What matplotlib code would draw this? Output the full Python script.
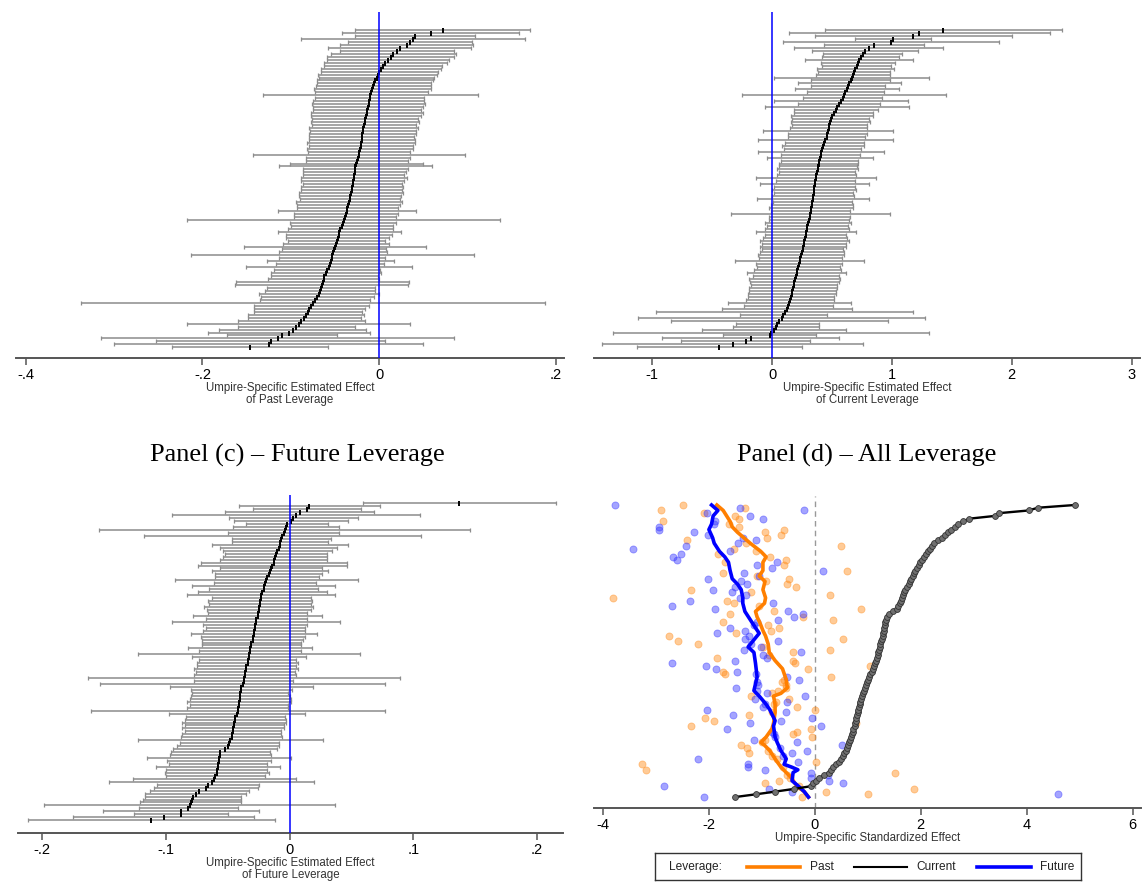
# Umpire-specific leverage effects: four panels (past, current, future, standardized)

import numpy as np
import matplotlib.pyplot as plt

plt.rcParams['font.family'] = ['Liberation Sans', 'DejaVu Sans']
plt.rcParams['axes.unicode_minus'] = False

# Panel (a): past leverage, point estimates and CI half-widths (rank 0 = bottom)
past_est = [
    -0.146, -0.125, -0.123, -0.115, -0.110, -0.102, -0.098, -0.094, -0.091, -0.088,
    -0.085, -0.083, -0.081, -0.079, -0.077, -0.075, -0.073, -0.070, -0.068, -0.067,
    -0.066, -0.065, -0.064, -0.063, -0.062, -0.060, -0.059, -0.057, -0.056, -0.055,
    -0.054, -0.053, -0.052, -0.051, -0.050, -0.049, -0.048, -0.047, -0.046, -0.045,
    -0.044, -0.042, -0.041, -0.040, -0.039, -0.038, -0.037, -0.036, -0.035, -0.034,
    -0.033, -0.033, -0.032, -0.031, -0.031, -0.030, -0.030, -0.029, -0.029, -0.028,
    -0.027, -0.027, -0.026, -0.025, -0.024, -0.023, -0.023, -0.022, -0.021, -0.021,
    -0.020, -0.020, -0.019, -0.018, -0.018, -0.017, -0.016, -0.016, -0.015, -0.014,
    -0.014, -0.013, -0.012, -0.012, -0.011, -0.010, -0.009, -0.008, -0.007, -0.006,
    -0.005, -0.003, -0.002, 0.000, 0.002, 0.004, 0.007, 0.010, 0.013, 0.016,
    0.020, 0.023, 0.031, 0.035, 0.038, 0.040, 0.058, 0.072]
past_hw = [
    0.088, 0.175, 0.130, 0.200, 0.062, 0.092, 0.083, 0.066, 0.126, 0.072,
    0.064, 0.066, 0.061, 0.063, 0.065, 0.262, 0.062, 0.064, 0.068, 0.062,
    0.061, 0.098, 0.098, 0.063, 0.061, 0.062, 0.060, 0.094, 0.061, 0.072,
    0.060, 0.160, 0.061, 0.059, 0.103, 0.060, 0.055, 0.058, 0.060, 0.070,
    0.059, 0.058, 0.060, 0.177, 0.058, 0.059, 0.078, 0.057, 0.058, 0.060,
    0.057, 0.058, 0.059, 0.057, 0.058, 0.056, 0.058, 0.060, 0.057, 0.058,
    0.059, 0.087, 0.075, 0.058, 0.059, 0.120, 0.058, 0.060, 0.059, 0.061,
    0.060, 0.059, 0.061, 0.060, 0.062, 0.059, 0.061, 0.060, 0.062, 0.063,
    0.061, 0.062, 0.064, 0.063, 0.062, 0.122, 0.064, 0.066, 0.065, 0.064,
    0.066, 0.065, 0.067, 0.066, 0.068, 0.067, 0.070, 0.069, 0.072, 0.071,
    0.064, 0.081, 0.075, 0.070, 0.127, 0.068, 0.100, 0.099]

# Panel (b): current leverage
curr_est = [
    -0.44, -0.33, -0.22, -0.18, -0.02, -0.01, 0.015, 0.030, 0.045, 0.060,
    0.080, 0.095, 0.105, 0.125, 0.135, 0.145, 0.150, 0.160, 0.165, 0.170,
    0.175, 0.180, 0.185, 0.190, 0.197, 0.205, 0.212, 0.220, 0.225, 0.230,
    0.237, 0.243, 0.250, 0.255, 0.260, 0.265, 0.270, 0.275, 0.280, 0.283,
    0.290, 0.295, 0.300, 0.308, 0.313, 0.318, 0.323, 0.328, 0.333, 0.336,
    0.340, 0.343, 0.346, 0.350, 0.353, 0.357, 0.361, 0.365, 0.370, 0.375,
    0.380, 0.385, 0.390, 0.395, 0.400, 0.405, 0.410, 0.418, 0.425, 0.435,
    0.445, 0.455, 0.462, 0.468, 0.473, 0.478, 0.484, 0.490, 0.500, 0.515,
    0.530, 0.545, 0.560, 0.575, 0.588, 0.600, 0.612, 0.625, 0.635, 0.645,
    0.655, 0.665, 0.675, 0.685, 0.695, 0.705, 0.715, 0.725, 0.740, 0.755,
    0.775, 0.805, 0.850, 0.990, 1.010, 1.180, 1.230, 1.430]
curr_hw = [
    0.69, 1.09, 0.54, 0.74, 0.39, 1.32, 0.60, 0.36, 0.35, 0.905,
    1.20, 0.36, 1.07, 0.54, 0.37, 0.514, 0.37, 0.36, 0.37, 0.36,
    0.37, 0.36, 0.37, 0.38, 0.36, 0.415, 0.36, 0.35, 0.36, 0.54,
    0.35, 0.36, 0.35, 0.34, 0.36, 0.35, 0.37, 0.35, 0.34, 0.415,
    0.35, 0.34, 0.36, 0.33, 0.34, 0.665, 0.33, 0.35, 0.34, 0.33,
    0.465, 0.34, 0.33, 0.35, 0.34, 0.455, 0.33, 0.50, 0.33, 0.32,
    0.34, 0.325, 0.33, 0.32, 0.445, 0.33, 0.525, 0.32, 0.34, 0.33,
    0.56, 0.32, 0.33, 0.545, 0.32, 0.31, 0.33, 0.32, 0.34, 0.33,
    0.35, 0.60, 0.34, 0.56, 0.33, 0.85, 0.32, 0.43, 0.31, 0.43,
    0.33, 0.645, 0.31, 0.30, 0.32, 0.29, 0.31, 0.45, 0.32, 0.33,
    0.44, 0.62, 0.42, 0.90, 0.32, 0.82, 1.09, 0.99]

# Panel (c): future leverage
fut_est = [
    -0.112, -0.102, -0.088, -0.088, -0.082, -0.081, -0.080, -0.079, -0.078, -0.076,
    -0.073, -0.068, -0.066, -0.063, -0.061, -0.060, -0.059, -0.059, -0.058, -0.058,
    -0.057, -0.057, -0.056, -0.056, -0.052, -0.050, -0.049, -0.048, -0.047, -0.047,
    -0.046, -0.046, -0.045, -0.045, -0.044, -0.044, -0.043, -0.042, -0.042, -0.041,
    -0.041, -0.040, -0.040, -0.040, -0.039, -0.039, -0.038, -0.037, -0.037, -0.036,
    -0.036, -0.035, -0.035, -0.034, -0.034, -0.033, -0.033, -0.032, -0.032, -0.031,
    -0.031, -0.030, -0.030, -0.029, -0.029, -0.028, -0.028, -0.027, -0.027, -0.026,
    -0.026, -0.025, -0.025, -0.024, -0.024, -0.023, -0.023, -0.022, -0.021, -0.021,
    -0.020, -0.019, -0.018, -0.017, -0.016, -0.015, -0.014, -0.013, -0.013, -0.012,
    -0.011, -0.010, -0.009, -0.008, -0.008, -0.007, -0.006, -0.005, -0.004, -0.003,
    -0.002, 0.001, 0.003, 0.005, 0.008, 0.014, 0.016, 0.137]
fut_hw = [
    0.100, 0.073, 0.038, 0.063, 0.040, 0.118, 0.041, 0.040, 0.039, 0.041,
    0.040, 0.042, 0.041, 0.083, 0.066, 0.040, 0.042, 0.041, 0.050, 0.040,
    0.042, 0.058, 0.041, 0.040, 0.042, 0.041, 0.040, 0.075, 0.041, 0.040,
    0.039, 0.041, 0.040, 0.042, 0.041, 0.040, 0.055, 0.119, 0.041, 0.040,
    0.042, 0.041, 0.040, 0.039, 0.041, 0.058, 0.115, 0.040, 0.126, 0.041,
    0.040, 0.042, 0.040, 0.041, 0.039, 0.046, 0.090, 0.041, 0.050, 0.040,
    0.040, 0.041, 0.042, 0.051, 0.041, 0.040, 0.042, 0.068, 0.041, 0.052,
    0.040, 0.042, 0.044, 0.041, 0.042, 0.040, 0.060, 0.052, 0.044, 0.058,
    0.041, 0.074, 0.042, 0.043, 0.047, 0.041, 0.060, 0.059, 0.043, 0.042,
    0.041, 0.044, 0.047, 0.055, 0.039, 0.040, 0.112, 0.045, 0.150, 0.043,
    0.033, 0.046, 0.052, 0.100, 0.060, 0.044, 0.057, 0.078]

# Panel (d): standardized effects
curr_std = [
    -1.51, -1.12, -0.75, -0.39, -0.07, -0.03, 0.02, 0.07, 0.18, 0.26,
    0.31, 0.35, 0.40, 0.46, 0.50, 0.53, 0.56, 0.58, 0.60, 0.63,
    0.65, 0.67, 0.69, 0.70, 0.72, 0.73, 0.75, 0.76, 0.77, 0.78,
    0.79, 0.81, 0.82, 0.83, 0.85, 0.86, 0.87, 0.89, 0.91, 0.93,
    0.95, 0.97, 0.99, 1.01, 1.03, 1.05, 1.08, 1.10, 1.12, 1.14,
    1.15, 1.17, 1.19, 1.20, 1.21, 1.23, 1.24, 1.25, 1.27, 1.28,
    1.29, 1.30, 1.31, 1.32, 1.33, 1.35, 1.36, 1.40, 1.48, 1.55,
    1.58, 1.60, 1.62, 1.64, 1.66, 1.69, 1.71, 1.74, 1.77, 1.80,
    1.82, 1.85, 1.87, 1.90, 1.93, 1.96, 1.99, 2.03, 2.06, 2.10,
    2.14, 2.17, 2.21, 2.25, 2.33, 2.40, 2.45, 2.51, 2.58, 2.65,
    2.71, 2.80, 2.92, 3.40, 3.47, 4.04, 4.21, 4.91]

past_std_rank = [
    107, 105, 106, 104, 101, 102, 99, 98, 96, 94, 95, 93, 91, 92, 90, 89, 88, 87,
    86, 85, 83, 82, 81, 80, 78, 77, 76, 75, 73, 74, 72, 71, 68, 69, 67, 66, 64, 65,
    62, 61, 60, 59, 58, 57, 56, 55, 53, 54, 51, 50, 49, 48, 47, 46, 45, 44, 43, 40,
    37, 36, 33, 32, 30, 29, 28, 27, 26, 25, 23, 24, 22, 19, 18, 16, 13, 12, 10, 9,
    5, 6, 3, 2, 1, 0,
    100, 103, 97, 79, 70, 63, 52, 42, 41, 39, 38, 35, 34, 31, 21, 20, 17, 15, 14,
    11, 8, 7, 4]
past_std = [
    -2.49, -2.90, -1.32, -2.10, -2.87, -1.43, -1.43, -0.59, -0.63, -2.41, -0.90,
    -1.30, -1.53, 0.50, -1.12, -1.83, -0.85, -0.54, -1.70, -0.58, 0.61, -1.74,
    -1.09, -0.48, -0.52, -0.35, -2.33, -1.20, -3.82, 0.29, -1.65, -1.53, -0.78,
    0.88, -1.60, -0.22, -1.74, 0.34, -0.68, -0.83, -1.49, -2.75, 0.54, -2.59,
    -2.21, -0.98, -0.42, 0.29, -1.85, -0.42, -0.37, 1.05, -0.12, -1.73, -1.70,
    0.31, -0.58, -0.54, -1.20, -0.48, -0.34, 0.01, -1.24, -2.07, -1.91, 0.77,
    -2.34, -0.07, -0.42, -0.34, -0.05, -1.39, -1.29, -1.24, 0.02, -3.26, -3.19,
    1.51, -0.95, -0.68, 1.88, 0.22, 1.00, -0.24,
    -1.62, -1.50, -0.95, -0.92, -1.05, -0.88, -0.86, -0.62, -0.55, -0.70, -0.80,
    -0.73, -0.77, -0.80, -0.95, -1.00, -0.88, -0.80, -0.72, -0.60, -0.52, -0.47,
    -0.30]

fut_std_rank = [
    107, 104, 106, 103, 102, 105, 99, 98, 97, 96, 92, 91, 89, 88, 87, 90, 95, 94,
    86, 85, 84, 83, 80, 82, 81, 78, 76, 77, 75, 73, 72, 70, 69, 71, 68, 66, 67, 65,
    62, 60, 61, 58, 59, 57, 55, 54, 53, 52, 51, 49, 50, 48, 47, 46, 44, 43, 40, 39,
    38, 37, 36, 35, 32, 31, 30, 29, 27, 26, 25, 28, 21, 20, 19, 16, 17, 14, 12, 11,
    13, 10, 9, 8, 7, 6, 5, 4, 3, 2, 0, 1,
    100, 101, 93, 79, 74, 64, 63, 56, 45, 42, 41, 34, 33, 24, 23, 22, 18, 15]
fut_std = [
    -3.77, -2.04, -1.41, -1.22, -0.97, -0.20, -2.95, -2.94, -2.29, -2.02, -2.44,
    -3.43, -2.53, -2.68, -2.60, -1.60, -1.36, -1.12, -0.71, -1.09, -0.81, 0.15,
    -2.02, -1.34, -1.05, -1.29, -1.92, -1.51, -1.56, -1.41, -2.36, -2.70, -1.88,
    -0.79, -0.50, -0.39, -0.22, -0.69, -1.60, -1.85, -1.31, -1.32, -1.24, -0.69,
    -1.02, -1.34, -0.27, -0.98, -0.90, -2.70, -1.51, -2.05, -1.87, -1.47, -0.52,
    -0.29, -1.49, -1.10, -0.90, -0.18, -1.13, -0.52, -2.04, -0.54, -1.55, -0.05,
    -1.22, 0.12, -1.66, -0.63, -1.15, -0.34, 0.51, -0.44, -0.15, -2.21, -1.27,
    -1.26, -0.31, -0.94, -0.07, 0.25, -0.07, 0.27, 0.53, -2.85, -0.86, -0.44,
    -2.10, 4.60,
    -1.90, -1.88, -1.45, -1.40, -1.30, -1.10, -1.15, -1.20, -1.12, -1.10, -1.08,
    -0.95, -0.98, -0.80, -0.78, -0.76, -0.66, -0.60]

# running-average lines in panel (d)
past_line_rank = [107, 105, 101, 99, 97, 93, 90, 88, 86, 83, 81, 79, 76, 73, 71,
                  68, 66, 64, 61, 59, 56, 53, 50, 47, 43, 40, 38, 37, 34, 31, 27,
                  25, 22, 20, 19, 17, 14, 11, 9, 7, 4, 2, 0]
past_line = [-1.85, -1.73, -1.60, -1.56, -1.46, -1.22, -1.02, -0.92, -0.98, -0.98,
             -1.05, -0.94, -0.98, -0.93, -0.95, -1.12, -1.09, -1.04, -0.98, -0.93,
             -0.88, -0.86, -0.75, -0.61, -0.54, -0.52, -0.64, -0.78, -0.75, -0.75,
             -0.78, -0.81, -0.92, -1.02, -0.95, -0.85, -0.75, -0.64, -0.54, -0.44,
             -0.34, -0.20, -0.12]
fut_line_rank = [107, 105, 103, 100, 98, 95, 93, 90, 88, 86, 83, 80, 78, 76, 73,
                 71, 68, 65, 62, 60, 55, 53, 49, 44, 39, 37, 34, 32, 28, 26, 22,
                 20, 17, 14, 12, 11, 10, 9, 6, 4, 2, 0]
fut_line = [-1.95, -1.83, -1.92, -1.95, -2.00, -1.93, -1.90, -1.80, -1.70, -1.63,
            -1.60, -1.56, -1.46, -1.39, -1.36, -1.36, -1.32, -1.22, -1.12, -1.05,
            -1.26, -1.15, -1.12, -1.09, -1.15, -1.05, -0.92, -0.85, -0.75, -0.78,
            -0.75, -0.71, -0.64, -0.54, -0.58, -0.44, -0.32, -0.41, -0.43, -0.31,
            -0.20, -0.12]

W, H = 1143, 882
fig = plt.figure(figsize=(W / 100, H / 100), dpi=100)

AXIS_C = '#555555'


def style_axis(ax, ticks, labels, xlabel):
    for s in ['left', 'right', 'top']:
        ax.spines[s].set_visible(False)
    ax.spines['bottom'].set_color(AXIS_C)
    ax.spines['bottom'].set_linewidth(1.4)
    ax.set_yticks([])
    ax.set_xticks(ticks)
    ax.set_xticklabels(labels)
    ax.tick_params(axis='x', direction='out', length=5, width=1.1,
                   color=AXIS_C, labelsize=10.5, pad=2.5)
    ax.set_xlabel(xlabel, fontsize=8.3, labelpad=0, linespacing=0.95,
                  color='#333333')


def forest(rect, est, hw, xlim, ylim, ticks, labels, xlabel):
    ax = fig.add_axes(rect)
    rows = np.arange(len(est))
    ax.errorbar(est, rows, xerr=hw, fmt='none', ecolor='#8c8c8c',
                elinewidth=1.1, capsize=1.6, capthick=0.9, zorder=2)
    ax.plot(est, rows, ls='none', marker='|', ms=3.6, mew=1.4,
            color='black', zorder=3)
    ax.axvline(0, color='#0000ff', lw=1.1, zorder=4)
    ax.set_xlim(xlim)
    ax.set_ylim(ylim)
    style_axis(ax, ticks, labels, xlabel)
    return ax


def rect(x0, x1, ytop, ybot):
    return [x0 / W, 1 - ybot / H, (x1 - x0) / W, (ybot - ytop) / H]


forest(rect(16, 564, 12, 358), past_est, past_hw, (-0.411, 0.209), (-3.6, 113.1),
       [-0.4, -0.2, 0, 0.2], ['-.4', '-.2', '0', '.2'],
       'Umpire-Specific Estimated Effect\nof Past Leverage')
forest(rect(594, 1140, 12, 358), curr_est, curr_hw, (-1.486, 3.07), (-3.6, 113.1),
       [-1, 0, 1, 2, 3], ['-1', '0', '1', '2', '3'],
       'Umpire-Specific Estimated Effect\nof Current Leverage')
forest(rect(18, 563, 495, 833), fut_est, fut_hw, (-0.2197, 0.221), (-4.3, 109.8),
       [-0.2, -0.1, 0, 0.1, 0.2], ['-.2', '-.1', '0', '.1', '.2'],
       'Umpire-Specific Estimated Effect\nof Future Leverage')

# Panel (d)
axd = fig.add_axes(rect(594, 1141, 496, 808))
ranks = np.arange(len(curr_std))
axd.axvline(0, color='#999999', lw=1.0, ls=(0, (4, 3)), zorder=1)
axd.scatter(past_std, past_std_rank, s=26, color='#ff8c1a', alpha=0.45,
            linewidths=0.6, zorder=2)
axd.scatter(fut_std, fut_std_rank, s=26, color='#3535ff', alpha=0.45,
            linewidths=0.6, zorder=2)
axd.plot(past_line, past_line_rank, color='#ff7f00', lw=2.6, zorder=3)
axd.plot(fut_line, fut_line_rank, color='#0000ff', lw=2.6, zorder=3)
axd.plot(curr_std, ranks, color='black', lw=1.7, marker='o', ms=4.2,
         mfc='#707070', mec='#333333', mew=0.6, zorder=4)
axd.set_xlim(-4.17, 6.16)
axd.set_ylim(-4.0, 110.3)
style_axis(axd, [-4, -2, 0, 2, 4, 6], ['-4', '-2', '0', '2', '4', '6'],
           'Umpire-Specific Standardized Effect')

# legend box below panel (d)
leg = fig.add_axes(rect(655, 1081, 853, 880))
leg.set_xlim(0, 1)
leg.set_ylim(0, 1)
leg.set_xticks([])
leg.set_yticks([])
for s in leg.spines.values():
    s.set_color('#333333')
    s.set_linewidth(1.0)
leg.text(0.033, 0.47, 'Leverage:', fontsize=8.6, va='center', ha='left', color='#222222')
for x0, col, lw, name in [(0.216, '#ff7f00', 2.6, 'Past'),
                          (0.466, 'black', 1.5, 'Current'),
                          (0.757, '#0000ff', 2.6, 'Future')]:
    leg.plot([x0, x0 + 0.125], [0.5, 0.5], color=col, lw=lw)
    leg.text(x0 + 0.147, 0.47, name, fontsize=8.6, va='center', ha='left',
             color='#222222')

# panel titles
fig.text(297 / W, 1 - 455 / H, 'Panel (c) \u2013 Future Leverage',
         family=['Liberation Serif', 'DejaVu Serif'], fontsize=19,
         ha='center', va='center')
fig.text(867 / W, 1 - 455 / H, 'Panel (d) \u2013 All Leverage',
         family=['Liberation Serif', 'DejaVu Serif'], fontsize=19,
         ha='center', va='center')

fig.savefig('out.png', dpi=100)
